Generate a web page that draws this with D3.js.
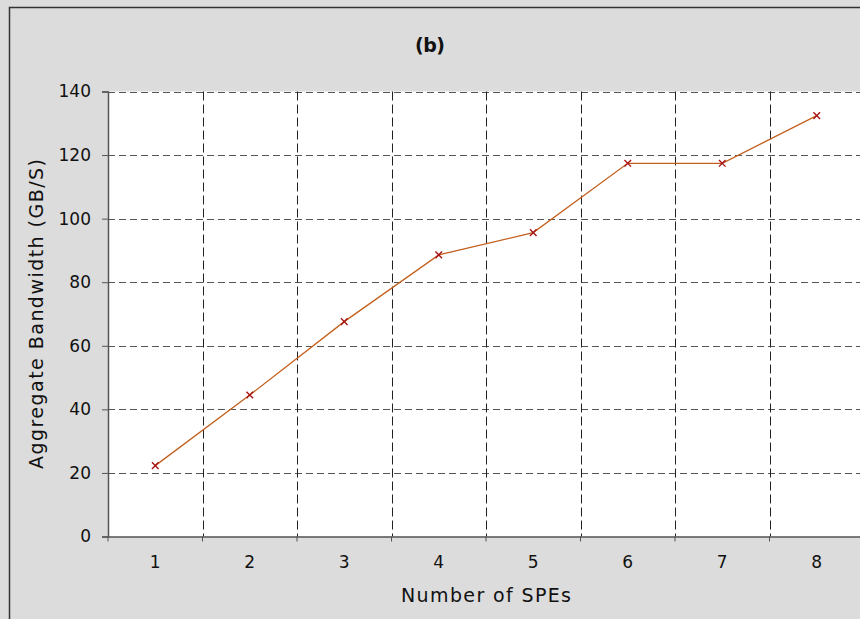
<!DOCTYPE html>
<html>
<head>
<meta charset="utf-8">
<script src="https://cdn.jsdelivr.net/npm/d3@7"></script>
<style>
  body { margin: 0; background: #dcdcdc; overflow: hidden; }
  svg text { font-family: "DejaVu Sans", Verdana, sans-serif; fill: #111; }
</style>
</head>
<body>
<svg width="860" height="619"></svg>
<script>
var speCounts = ["1", "2", "3", "4", "5", "6", "7", "8"];
var bandwidth = [22.3, 44.5, 67.6, 88.6, 95.6, 117.4, 117.4, 132.4];
var yTicks = [0, 20, 40, 60, 80, 100, 120, 140];

var svg = d3.select("svg"),
    plotLeft = 108, plotRight = 864, plotTop = 91.5, plotBottom = 536.5;

// outer frame
svg.append("rect")
    .attr("x", 9.5).attr("y", 7.5)
    .attr("width", 900).attr("height", 700)
    .attr("fill", "#dcdcdc").attr("stroke", "#333").attr("stroke-width", 1.5);

var x = d3.scaleBand().domain(speCounts).range([plotLeft, plotRight]);
var y = d3.scaleLinear().domain([0, 140]).range([plotBottom, plotTop]);

// plot area
svg.append("rect")
    .attr("x", plotLeft).attr("y", plotTop)
    .attr("width", plotRight - plotLeft).attr("height", plotBottom - plotTop)
    .attr("fill", "#fff");

// horizontal grid
svg.append("g").selectAll("line")
    .data(yTicks.filter(function(d) { return d > 0; }))
    .enter().append("line")
      .attr("x1", plotLeft).attr("x2", plotRight)
      .attr("y1", function(d) { return Math.round(y(d)) + 0.5; })
      .attr("y2", function(d) { return Math.round(y(d)) + 0.5; })
      .attr("stroke", "#555").attr("stroke-dasharray", "7,4");

// vertical grid at category boundaries
svg.append("g").selectAll("line")
    .data(speCounts.slice(1))
    .enter().append("line")
      .attr("x1", function(d) { return Math.round(x(d)) + 0.5; })
      .attr("x2", function(d) { return Math.round(x(d)) + 0.5; })
      .attr("y1", plotTop).attr("y2", plotBottom)
      .attr("stroke", "#222").attr("stroke-dasharray", "9,4");

// y axis
var yAxis = svg.append("g")
    .attr("transform", "translate(" + plotLeft + ",0)")
    .call(d3.axisLeft(y).tickValues(yTicks).tickSize(6).tickPadding(11));
yAxis.selectAll("text").style("font-size", "17px");

// x axis with ticks at band boundaries
var xAxis = svg.append("g")
    .attr("transform", "translate(0," + plotBottom + ")")
    .call(d3.axisBottom(x).tickSize(0).tickPadding(19));
xAxis.selectAll("text").style("font-size", "17px");
xAxis.selectAll(".bound")
    .data(speCounts.slice(1))
    .enter().append("line")
      .attr("class", "bound")
      .attr("x1", function(d) { return x(d); })
      .attr("x2", function(d) { return x(d); })
      .attr("y1", 0).attr("y2", 5)
      .attr("stroke", "#555");
xAxis.append("line").attr("x1", plotLeft).attr("x2", plotLeft).attr("y1", 0).attr("y2", 5).attr("stroke", "#555");

svg.selectAll(".domain").attr("stroke", "#555").attr("stroke-width", 1.5);
svg.selectAll(".tick line").attr("stroke", "#555");

// series
var line = d3.line()
    .x(function(d, i) { return x(speCounts[i]) + x.bandwidth() / 2; })
    .y(function(d) { return y(d); });

svg.append("path")
    .datum(bandwidth)
    .attr("d", line)
    .attr("fill", "none")
    .attr("stroke", "#c4601e")
    .attr("stroke-width", 1.3);

svg.append("g").selectAll("path")
    .data(bandwidth)
    .enter().append("path")
      .attr("transform", function(d, i) {
        return "translate(" + (x(speCounts[i]) + x.bandwidth() / 2) + "," + y(d) + ")";
      })
      .attr("d", d3.symbol(d3.symbolX, 30))
      .attr("fill", "none")
      .attr("stroke", "#a81414")
      .attr("stroke-width", 1.4);

// texts (verdana is wider than dejavu, so stretch a bit)
svg.append("text")
    .attr("x", 430).attr("y", 52)
    .attr("text-anchor", "middle")
    .attr("textLength", 30).attr("lengthAdjust", "spacing")
    .style("font-size", "19px").style("font-weight", "bold")
    .text("(b)");

svg.append("text")
    .attr("x", (plotLeft + plotRight) / 2).attr("y", 602)
    .attr("text-anchor", "middle")
    .attr("textLength", 170).attr("lengthAdjust", "spacing")
    .style("font-size", "19px")
    .text("Number of SPEs");

svg.append("text")
    .attr("transform", "translate(43," + (plotTop + plotBottom) / 2 + ") rotate(-90)")
    .attr("text-anchor", "middle")
    .attr("textLength", 310).attr("lengthAdjust", "spacing")
    .style("font-size", "19px")
    .text("Aggregate Bandwidth (GB/S)");
</script>
</body>
</html>
